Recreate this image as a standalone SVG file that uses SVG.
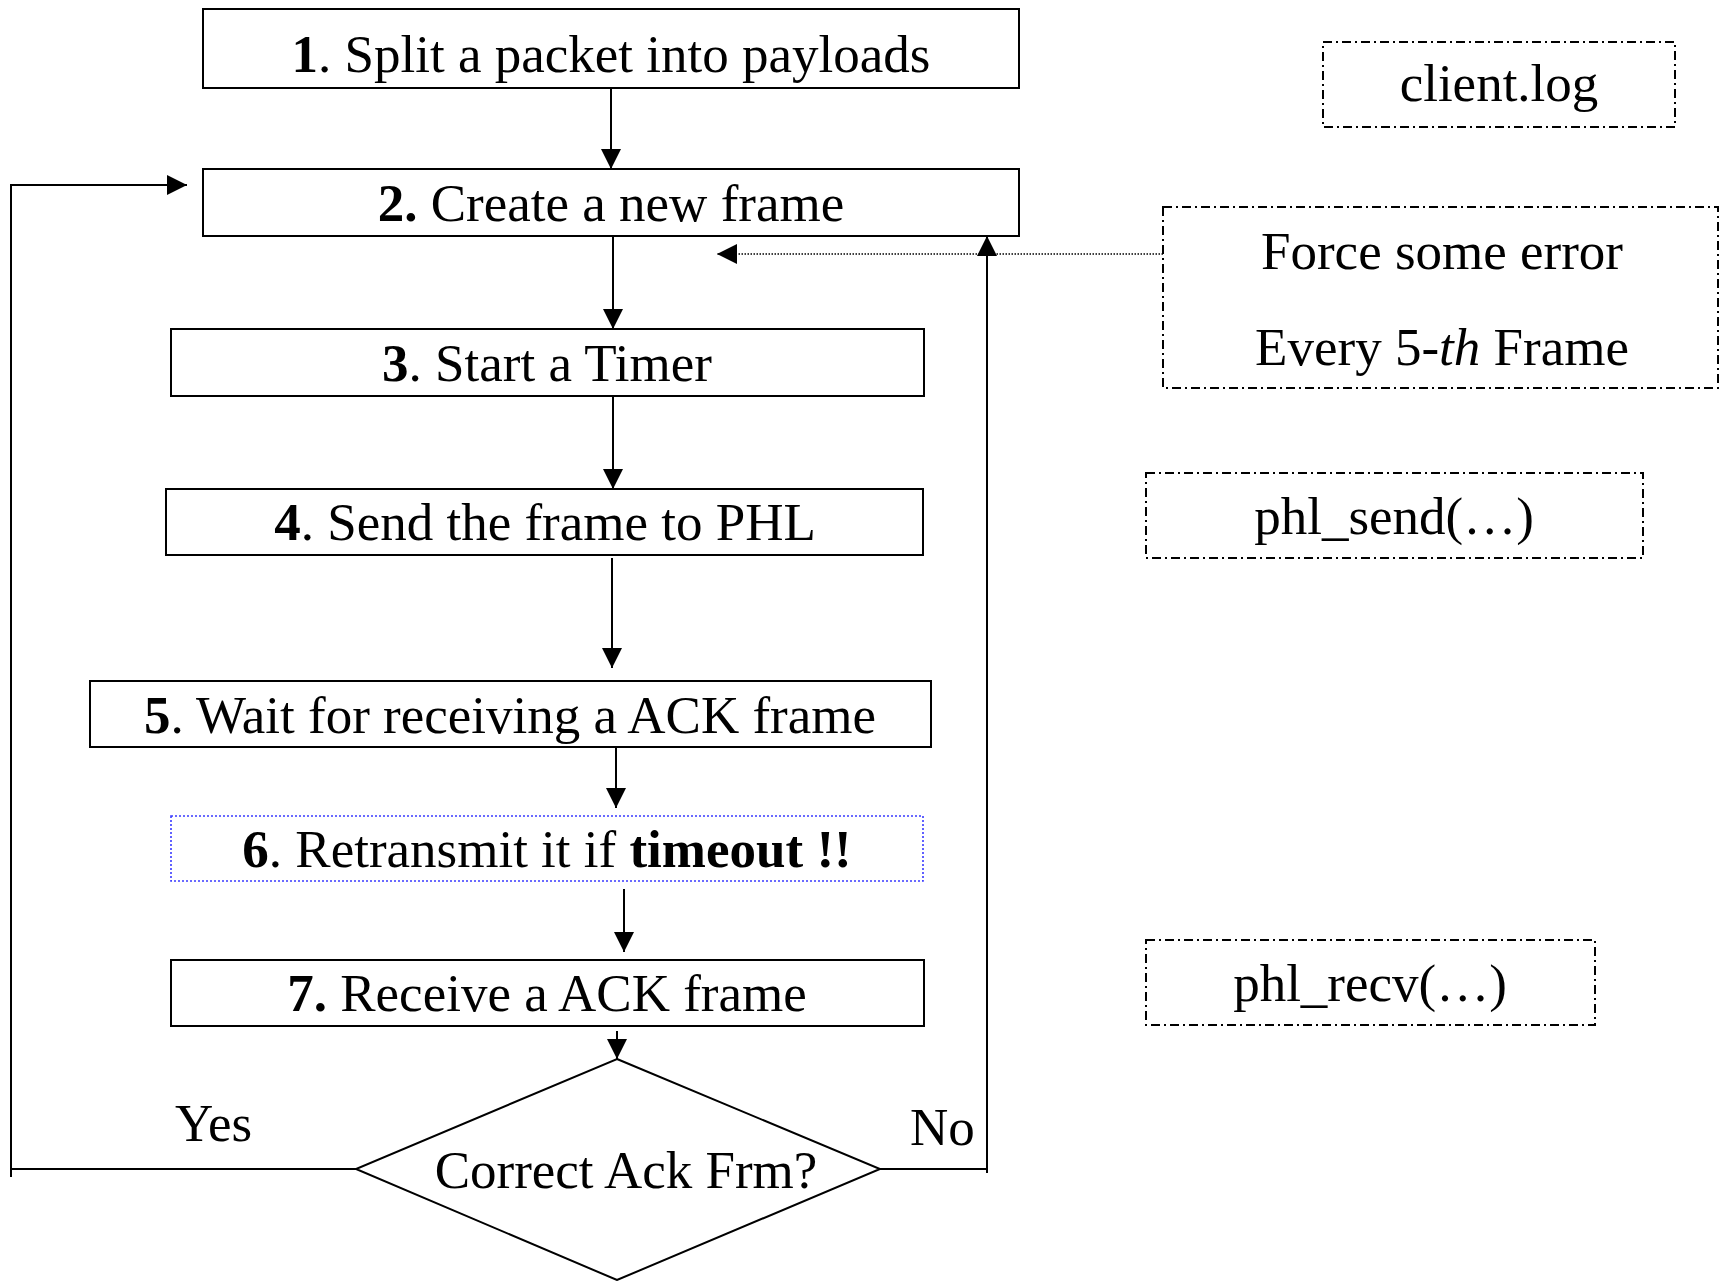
<svg xmlns="http://www.w3.org/2000/svg" width="1720" height="1281" viewBox="0 0 1720 1281">
  <style>
    text { font-family: "Liberation Serif", "Times New Roman", serif; font-size: 53px; fill: #000; }
    .c { text-anchor: middle; }
    .b { font-weight: bold; }
    .i { font-style: italic; }
    .step { fill: #fff; stroke: #000; stroke-width: 2; }
    .note { fill: none; stroke: #000; stroke-width: 2; stroke-dasharray: 9 4 2 4; }
    .soft { fill: none; stroke: #3a3aff; stroke-width: 1.6; stroke-dasharray: 2 2; }
    .flow { fill: none; stroke: #000; stroke-width: 2; }
    .dot { fill: none; stroke: #000; stroke-width: 1.3; stroke-dasharray: 1.5 1.5; }
  </style>
  <defs>
    <marker id="head" viewBox="0 0 20 20" refX="20" refY="10" markerWidth="20" markerHeight="20" markerUnits="userSpaceOnUse" orient="auto">
      <path d="M0,0 L20,10 L0,20 Z" fill="#000"/>
    </marker>
  </defs>

  <rect width="1720" height="1281" fill="#fff"/>

  <!-- connectors -->
  <g id="connectors">
    <line class="flow" x1="611" y1="88" x2="611" y2="169" marker-end="url(#head)"/>
    <line class="flow" x1="613" y1="236" x2="613" y2="329" marker-end="url(#head)"/>
    <line class="flow" x1="613" y1="396" x2="613" y2="489" marker-end="url(#head)"/>
    <line class="flow" x1="612" y1="558" x2="612" y2="668" marker-end="url(#head)"/>
    <line class="flow" x1="616" y1="746" x2="616" y2="808" marker-end="url(#head)"/>
    <line class="flow" x1="624" y1="889" x2="624" y2="952" marker-end="url(#head)"/>
    <line class="flow" x1="617" y1="1031" x2="617" y2="1059" marker-end="url(#head)"/>
    <!-- Yes: loop back to step 2 -->
    <polyline class="flow" points="356,1169 11,1169"/>
    <line class="flow" x1="11" y1="1177" x2="11" y2="184"/>
    <polyline class="flow" points="10,185 187,185" marker-end="url(#head)"/>
    <!-- No: back up to step 2 -->
    <polyline class="flow" points="880,1169 987,1169"/>
    <line class="flow" x1="987" y1="1173" x2="987" y2="236" marker-end="url(#head)"/>
    <!-- error injection -->
    <line class="dot" x1="1163" y1="254" x2="717" y2="254" marker-end="url(#head)"/>
  </g>

  <g id="step1">
    <rect class="step" x="203" y="9" width="816" height="79"/>
    <text class="c" x="611" y="72"><tspan class="b">1</tspan>. Split a packet into payloads</text>
  </g>

  <g id="step2">
    <rect class="step" x="203" y="169" width="816" height="67"/>
    <text class="c" x="611" y="221"><tspan class="b">2.</tspan> Create a new frame</text>
  </g>

  <g id="step3">
    <rect class="step" x="171" y="329" width="753" height="67"/>
    <text class="c" x="547" y="381"><tspan class="b">3</tspan>. Start a Timer</text>
  </g>

  <g id="step4">
    <rect class="step" x="166" y="489" width="757" height="66"/>
    <text class="c" x="545" y="540"><tspan class="b">4</tspan>. Send the frame to PHL</text>
  </g>

  <g id="step5">
    <rect class="step" x="90" y="681" width="841" height="66"/>
    <text class="c" x="510" y="733"><tspan class="b">5</tspan>. Wait for receiving a ACK frame</text>
  </g>

  <g id="step6">
    <rect class="soft" x="171" y="816" width="752" height="65"/>
    <text class="c" x="547" y="867"><tspan class="b">6</tspan>. Retransmit it if <tspan class="b">timeout !!</tspan></text>
  </g>

  <g id="step7">
    <rect class="step" x="171" y="960" width="753" height="66"/>
    <text class="c" x="547" y="1011"><tspan class="b">7.</tspan> Receive a ACK frame</text>
  </g>

  <g id="decision">
    <polygon class="step" points="617,1059 880,1169 617,1280 356,1169"/>
    <text class="c" x="626" y="1188">Correct Ack Frm?</text>
  </g>

  <g id="label-yes">
    <text x="175" y="1141">Yes</text>
  </g>
  <g id="label-no">
    <text x="910" y="1145">No</text>
  </g>

  <g id="client-log">
    <rect class="note" x="1323" y="42" width="352" height="85"/>
    <text class="c" x="1499" y="101">client.log</text>
  </g>

  <g id="force-error">
    <rect class="note" x="1163" y="207" width="555" height="181"/>
    <text class="c" x="1442" y="269">Force some error</text>
    <text class="c" x="1442" y="365">Every 5-<tspan class="i">th</tspan> Frame</text>
  </g>

  <g id="phl-send">
    <rect class="note" x="1146" y="473" width="497" height="85"/>
    <text class="c" x="1394" y="534">phl_send(…)</text>
  </g>

  <g id="phl-recv">
    <rect class="note" x="1146" y="940" width="449" height="85"/>
    <text class="c" x="1370" y="1001">phl_recv(…)</text>
  </g>
</svg>
